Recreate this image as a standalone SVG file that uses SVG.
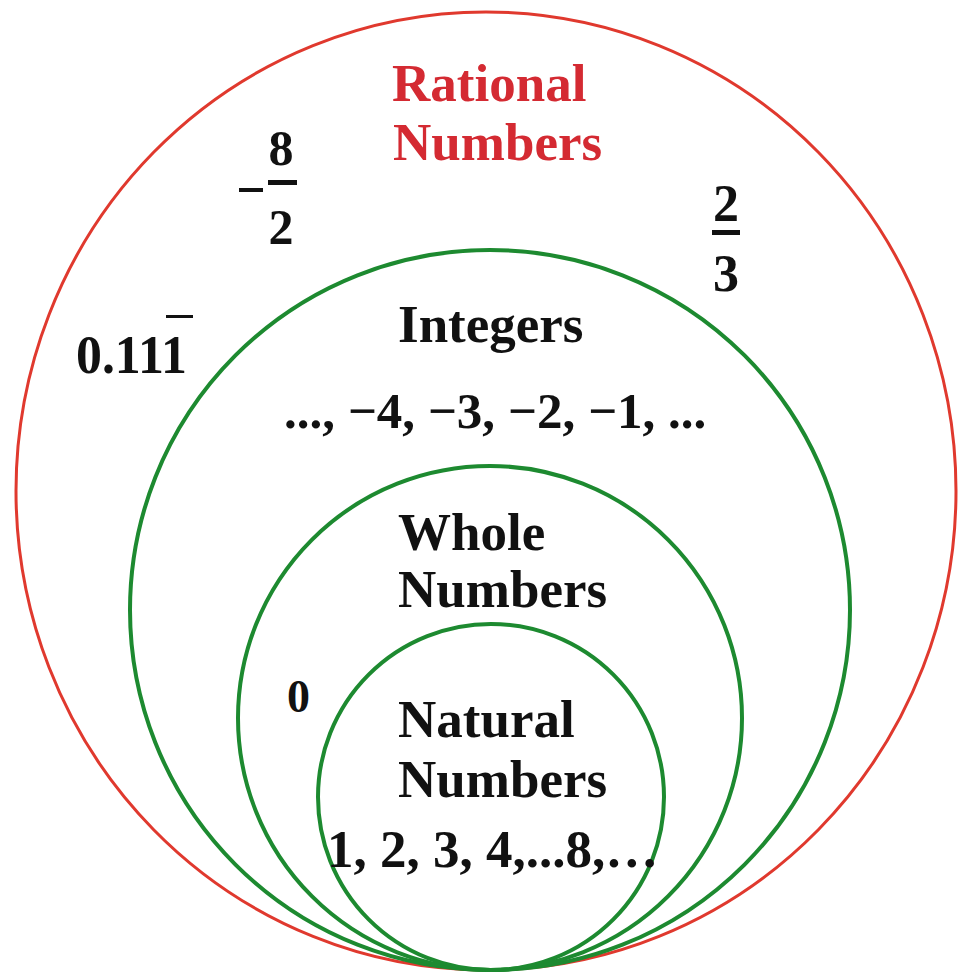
<svg xmlns="http://www.w3.org/2000/svg" width="959" height="975" viewBox="0 0 959 975">
<style>
.t{font-family:"Liberation Serif","Times New Roman",serif;font-weight:bold;fill:#111}
.r{fill:#d42a32}
.g{fill:none;stroke:#1d8a30;stroke-width:4}
.bar{fill:#111}
</style>
<rect width="959" height="975" fill="#fff"/>
<g id="connectors"></g>
<g id="rational">
<ellipse cx="486" cy="491" rx="470" ry="479" fill="none" stroke="#e0392e" stroke-width="3"/>
<text class="t r" x="392" y="101" font-size="53">Rational</text>
<text class="t r" x="393" y="160" font-size="53">Numbers</text>
</g>
<g id="frac-neg8-2">
<rect x="239" y="188" width="24" height="4" class="bar"/>
<text class="t" x="281" y="165" font-size="50" text-anchor="middle">8</text>
<rect x="268" y="180" width="29" height="5" class="bar"/>
<text class="t" x="281" y="244" font-size="50" text-anchor="middle">2</text>
</g>
<g id="frac-2-3">
<text class="t" x="726" y="221" font-size="52" text-anchor="middle">2</text>
<rect x="712" y="230" width="28" height="5" class="bar"/>
<text class="t" x="726" y="291" font-size="52" text-anchor="middle">3</text>
</g>
<g id="repeating">
<text class="t" font-size="54" transform="translate(76 373) scale(0.96 1)">0.111</text>
<rect x="166" y="315" width="27" height="3" class="bar"/>
</g>
<g id="integers">
<circle cx="490" cy="610" r="360" class="g"/>
<text class="t" x="398" y="342" font-size="53">Integers</text>
<text class="t" x="284" y="428" font-size="51">..., −4, −3, −2, −1, ...</text>
</g>
<g id="whole">
<circle cx="490" cy="718" r="252" class="g"/>
<text class="t" x="398" y="550" font-size="53">Whole</text>
<text class="t" x="398" y="607" font-size="53">Numbers</text>
<text class="t" x="287" y="712" font-size="46">0</text>
</g>
<g id="natural">
<circle cx="491" cy="797" r="173" class="g"/>
<text class="t" x="398" y="737" font-size="53">Natural</text>
<text class="t" x="398" y="797" font-size="53">Numbers</text>
<text class="t" x="327" y="867" font-size="53">1, 2, 3, 4,...8,…</text>
</g>
</svg>
